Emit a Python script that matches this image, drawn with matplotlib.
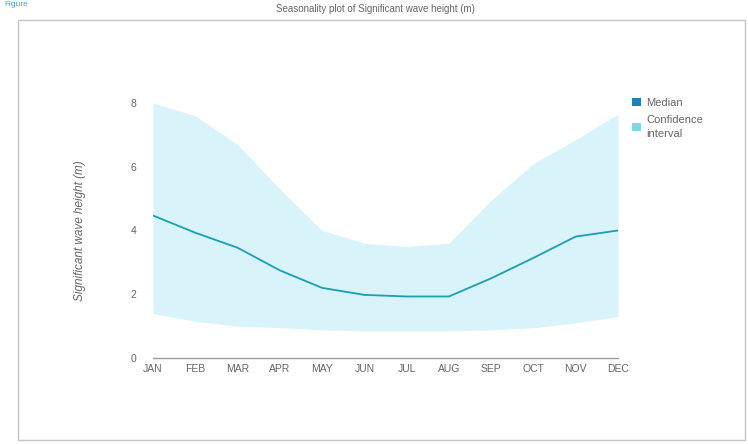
import numpy as np
import matplotlib
matplotlib.use('Agg')
import matplotlib.pyplot as plt
from matplotlib.patches import Patch, Rectangle

plt.rcParams['font.family'] = ['Liberation Sans', 'DejaVu Sans']

#### data ####
months = ['JAN', 'FEB', 'MAR', 'APR', 'MAY', 'JUN',
          'JUL', 'AUG', 'SEP', 'OCT', 'NOV', 'DEC']
median = [4.47, 3.93, 3.46, 2.75, 2.2, 1.98, 1.93, 1.93, 2.5, 3.14, 3.81, 4.0]
ci_upper = [8.0, 7.6, 6.7, 5.3, 4.0, 3.6, 3.5, 3.6, 4.95, 6.1, 6.85, 7.65]
ci_lower = [1.4, 1.15, 1.0, 0.95, 0.88, 0.85, 0.85, 0.85, 0.88, 0.95, 1.1, 1.3]
y_ticks = [0, 2, 4, 6, 8]

line_color = '#1a9fb2'
fill_color = '#d9f3fb'
text_color = '#666666'

W, H = 748, 444
fig = plt.figure(figsize=(W / 100, H / 100), dpi=100)

# outer frame
fig.patches.append(Rectangle((18 / W, 4 / H), 727 / W, 420 / H,
                             transform=fig.transFigure, fill=False,
                             edgecolor='#c4c4c4', linewidth=1.0))
fig.text(4 / W, 1 - 1 / H, 'Figure', color='#4a9fd8', fontsize=6,
         ha='left', va='top')
fig.text(375 / W, 1 - 9 / H,
         'Seasonality plot of Significant wave height (m)',
         color=text_color, fontsize=7, ha='center', va='center')

ax = fig.add_axes([153 / W, 86 / H, 465 / W, 255 / H])
x = np.arange(len(months))
ax.fill_between(x, ci_lower, ci_upper, color=fill_color, linewidth=0,
                label='Confidence\ninterval')
ax.plot(x, median, color=line_color, linewidth=1.3, label='Median')

ax.set_xlim(0, 11)
ax.set_ylim(0, 8)
ax.set_xticks(x)
ax.set_xticklabels(months)
ax.set_yticks(y_ticks)
for s in ['top', 'right', 'left']:
    ax.spines[s].set_visible(False)
ax.spines['bottom'].set_color('#9a9a9a')
ax.spines['bottom'].set_linewidth(1.0)
ax.tick_params(axis='both', length=0, labelsize=7.5, colors=text_color)
ax.tick_params(axis='y', pad=12)
ax.tick_params(axis='x', pad=4)
ax.set_ylabel('Significant wave height (m)', fontsize=8.5, style='italic',
              color=text_color, labelpad=32)

handles = [Patch(facecolor='#1f7fb8', edgecolor='none'),
           Patch(facecolor='#80d5ea', edgecolor='none')]
leg = ax.legend(handles, ['Median', 'Confidence\ninterval'], loc='upper left',
                bbox_to_anchor=(1.03, 1.02), frameon=False, fontsize=8,
                handlelength=0.8, handleheight=0.8, handletextpad=0.5,
                borderaxespad=0, borderpad=0, labelspacing=0.6,
                labelcolor=text_color)
for t in leg.get_texts():
    t.set_linespacing(1.5)

fig.savefig('out.png', dpi=100)
